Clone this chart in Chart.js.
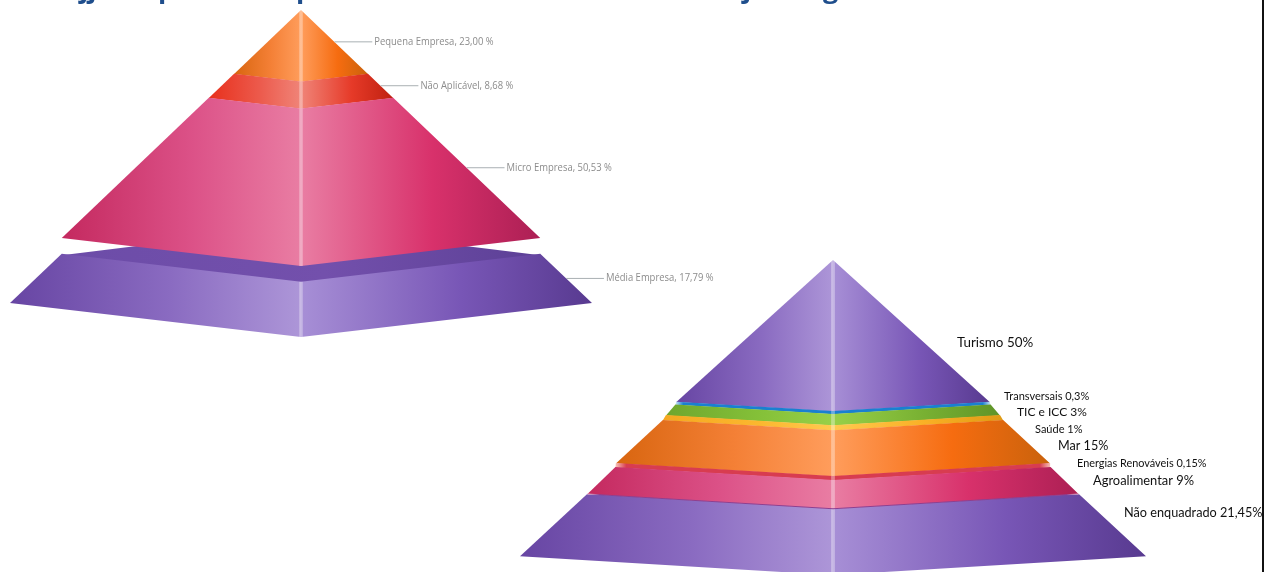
<!DOCTYPE html>
<html><head><meta charset="utf-8">
<script src="https://cdn.jsdelivr.net/npm/chart.js@4"></script>
<style>
html,body{margin:0;padding:0;background:#fff;overflow:hidden}
#wrap{position:relative;width:1264px;height:572px;overflow:hidden}
canvas{position:absolute;left:0;top:0}
#rule{position:absolute;left:1261.5px;top:0;width:2.5px;height:572px;background:#111}
.t{position:absolute;top:-27px;font:700 27px "Open Sans";color:#1f4e8c;line-height:30px;white-space:pre}
</style></head><body>
<div id="wrap"><canvas id="c" width="1264" height="572"></canvas><div id="rule"></div>
<span class="t" style="left:80px">jj</span><span class="t" style="left:158px">p</span><span class="t" style="left:296px">p</span><span class="t" style="left:743px">j</span><span class="t" style="left:823px">g</span>
</div>
<script>
// ---- data ----
const companyCategories = ['Pequena Empresa','Não Aplicável','Micro Empresa','Média Empresa'];
const companyValues = [23.00, 8.68, 50.53, 17.79];
const sectorCategories = ['Turismo','Transversais','TIC e ICC','Saúde','Mar','Energias Renováveis','Agroalimentar','Não enquadrado'];
const sectorValues = [50, 0.3, 3, 1, 15, 0.15, 9, 21.45];
const sectorLabels = ['Turismo 50%','Transversais 0,3%','TIC e ICC 3%','Saúde 1%','Mar 15%','Energias Renováveis 0,15%','Agroalimentar 9%','Não enquadrado 21,45%'];

// ---- look ----
const PAL = {
  orange:{l:['#d8650f','#f48036','#ff9d5c'],r:['#ff9d5c','#f66c10','#c9620c']},
  red:{l:['#e8301c','#ec5a4c','#f08478'],r:['#f08478','#e63a28','#bf2010']},
  pink:{l:['#c4295f','#dc5288','#e97da3'],r:['#e97da3','#d8316b','#ac1f54']},
  purple:{l:['#6745a3','#8a6bc1','#ad96d8'],r:['#a78fd6','#7856b6','#583a90']},
  blue:{l:['#cfe6f7','#1a80d0','#1a80d0'],r:['#1a80d0','#1a80d0','#cfe6f7']},
  green:{l:['#6fa62e','#84c038','#98d048'],r:['#98d048','#78b032','#5f9428']},
  yellow:{l:['#f5a821','#fbb72e','#ffc94f'],r:['#ffc94f','#f9b025','#e09a15']},
  ember:{l:['#f9c4b8','#d83c50','#d83c50'],r:['#d83c50','#d83c50','#f9c4b8']}
};
const companyStyle = ['orange','red','pink','purple'];
const sectorStyle = ['purple','blue','green','yellow','orange','ember','pink','purple'];

// per-boundary lift in % units: [top, bottom] of each layer, for the exploded / nudged bands
const companyLift = [[0,0],[0,0],[0,0],[5.8,5.8]];
const sectorLift  = [[0,-2.25],[-2.25,-1.6],[-1.6,-1.0],[-1.0,-0.35],[-0.35,-0.85],[-0.85,0.35],[0.35,0.45],[0.45,0]];

function makeDatasets(values, styles, lifts, q, total){
  const out=[]; let cum=0;
  const {xID,yID,px:pxPerX,py:pxPerY,tilt}=q;
  const ds=(data,extra)=>Object.assign({type:'scatter',showLine:true,xAxisID:xID,yAxisID:yID,data,pointRadius:0,pointHoverRadius:0,borderWidth:0,tension:0,fill:'shape',clip:false},extra);
  values.forEach((v,i)=>{
    const a=cum/total*100, b=(cum+v)/total*100; cum+=v;
    const ya=a+lifts[i][0], yb=b+lifts[i][1]+(i<values.length-1?0.12:0);
    const da=a*tilt*pxPerX/pxPerY, db=b*tilt*pxPerX/pxPerY;
    const p=PAL[styles[i]];
    out.push(ds([{x:-b,y:yb},{x:0,y:yb+db},{x:0,y:ya+da},{x:-a,y:ya}],{label:'L',backgroundColor:grad(p.l,-b,0,xID)}));
    out.push(ds([{x:0,y:ya+da},{x:0,y:yb+db},{x:b,y:yb},{x:a,y:ya}],{label:'R',backgroundColor:grad(p.r,0,b,xID)}));
    // centre highlight
    out.push(ds([{x:-0.6,y:ya+da},{x:0.6,y:ya+da},{x:0.6,y:yb+db},{x:-0.6,y:yb+db}],{backgroundColor:'rgba(255,255,255,0.35)'}));
  });
  return out;
}
function grad(stops,x0,x1,xID){
  return function(ctx){
    const c=ctx.chart, s=c.scales[xID]; if(!s) return stops[1];
    const p0=s.getPixelForValue(x0), p1=s.getPixelForValue(x1);
    if(!isFinite(p0)||!isFinite(p1)) return stops[1];
    const g=c.ctx.createLinearGradient(p0,0,p1,0);
    const thin=stops[0]==='#cfe6f7'||stops[0]==='#f9c4b8', thinR=stops[2]==='#cfe6f7'||stops[2]==='#f9c4b8';
    g.addColorStop(0,stops[0]);
    if(thin) g.addColorStop(0.05,stops[1]); else if(thinR) g.addColorStop(0.95,stops[1]); else g.addColorStop(0.55,stops[1]);
    g.addColorStop(1,stops[2]);
    return g;
  };
}

// left pyramid: 2.77 px per % down, 2.91 px per % across, apex at (301,10)
const L={xID:'xL',yID:'yL',px:2.91,py:2.77,cx:301,ay:10,tilt:0.1167};
const R={xID:'xR',yID:'yR',px:3.13,py:2.963,cx:833,ay:260,tilt:0.06};
const W=1264,H=572;
const axisOf=(q)=>({x:{type:'linear',display:false,min:-q.cx/q.px,max:(W-q.cx)/q.px},
                    y:{type:'linear',display:false,reverse:true,min:-q.ay/q.py,max:(H-q.ay)/q.py}});
const aL=axisOf(L), aR=axisOf(R);

const totalC=companyValues.reduce((a,b)=>a+b,0), totalS=sectorValues.reduce((a,b)=>a+b,0);
const dsL=makeDatasets(companyValues,companyStyle,companyLift,L,totalC);
const dsR=makeDatasets(sectorValues,sectorStyle,sectorLift,R,totalS);

// top face of the exploded base layer
const baseTopHW=(totalC-companyValues[3])/totalC*100, baseTopY=baseTopHW+companyLift[3][0], dip=baseTopHW*L.tilt*L.px/L.py;
const topFace={type:'scatter',showLine:true,xAxisID:'xL',yAxisID:'yL',pointRadius:0,borderWidth:0,fill:'shape',clip:false,
  data:[{x:-baseTopHW,y:baseTopY+0.5},{x:0,y:baseTopY-dip},{x:baseTopHW,y:baseTopY+0.5},{x:0,y:baseTopY+dip+0.5}],
  backgroundColor:grad(['#6c4ca8','#7350ac','#5c4096'],-baseTopHW,baseTopHW,'xL')};

// leader lines for company labels
function leaders(values,lifts,total,xID,yID){
  let cum=0; const out=[];
  values.forEach((v,i)=>{
    const a=cum/total*100,b=(cum+v)/total*100; cum+=v;
    const m=(a+b)/2, y=m+(lifts[i][0]+lifts[i][1])/2;
    out.push({type:'scatter',showLine:true,xAxisID:xID,yAxisID:yID,pointRadius:0,borderWidth:1,borderColor:'#a9b0b3',fill:false,clip:false,
      data:[{x:m,y},{x:m+13,y}]});
  });
  return out;
}
const leadL=leaders(companyValues,companyLift,totalC,'xL','yL');

// edge between the two lowest right-pyramid bands
const sectorEdge=(()=>{const hw=(totalS-sectorValues[7])/totalS*100,b=hw+sectorLift[7][0],d=hw*R.tilt*R.px/R.py;
  return {type:'scatter',showLine:true,xAxisID:'xR',yAxisID:'yR',pointRadius:0,borderWidth:1.2,fill:false,clip:false,
  borderColor(ctx){const s=ctx.chart.scales.xR;if(!s)return '#8e3f8f';const p0=s.getPixelForValue(-hw),p1=s.getPixelForValue(hw);
    if(!isFinite(p0)||!isFinite(p1))return '#8e3f8f';
    const g=ctx.chart.ctx.createLinearGradient(p0,0,p1,0);
    g.addColorStop(0,'#f6c8d8');g.addColorStop(0.025,'#8e3f8f');g.addColorStop(0.975,'#8e3f8f');g.addColorStop(1,'#f6c8d8');return g;},
  data:[{x:-hw,y:b},{x:0,y:b+d},{x:hw,y:b}]};})();

// canvas draws from last dataset to first; the list is in back-to-front order, so reverse it
const all=[topFace,...dsL,...leadL,...dsR,sectorEdge].reverse();

const labelPlugin={id:'labels',afterDatasetsDraw(c){
  const g=c.ctx; g.save(); g.textBaseline='middle'; g.textAlign='left';
  g.font='10.5px "Open Sans"'; g.fillStyle='#8c8c8c';
  leadL.forEach((d,i)=>{
    const p=d.data[1];
    const x=c.scales.xL.getPixelForValue(p.x)+2, y=c.scales.yL.getPixelForValue(p.y);
    const txt=companyCategories[i]+', '+companyValues[i].toFixed(2).replace('.',',')+' %';
    g.save(); g.translate(x,y); g.scale(0.9,1); g.fillText(txt,0,0); g.restore();
  });
  const pos=[[957,342,13.4],[1004,396,11],[1017,412,12],[1035,429,11],[1058,445,12.6],[1077,463,10.9],[1093,480,12.9],[1124,512,12.7]];
  g.fillStyle='#111';
  sectorLabels.forEach((t,i)=>{g.font=pos[i][2]+'px Lato';g.fillText(t,pos[i][0],pos[i][1]+0.5);});
  g.restore();
}};

new Chart(document.getElementById('c'),{
  type:'scatter',
  data:{datasets:all},
  options:{responsive:false,animation:false,devicePixelRatio:1,
    layout:{padding:0},
    plugins:{legend:{display:false},tooltip:{enabled:false},title:{display:false}},
    scales:{xL:aL.x,yL:aL.y,xR:aR.x,yR:aR.y}},
  plugins:[labelPlugin]
});
</script></body></html>
